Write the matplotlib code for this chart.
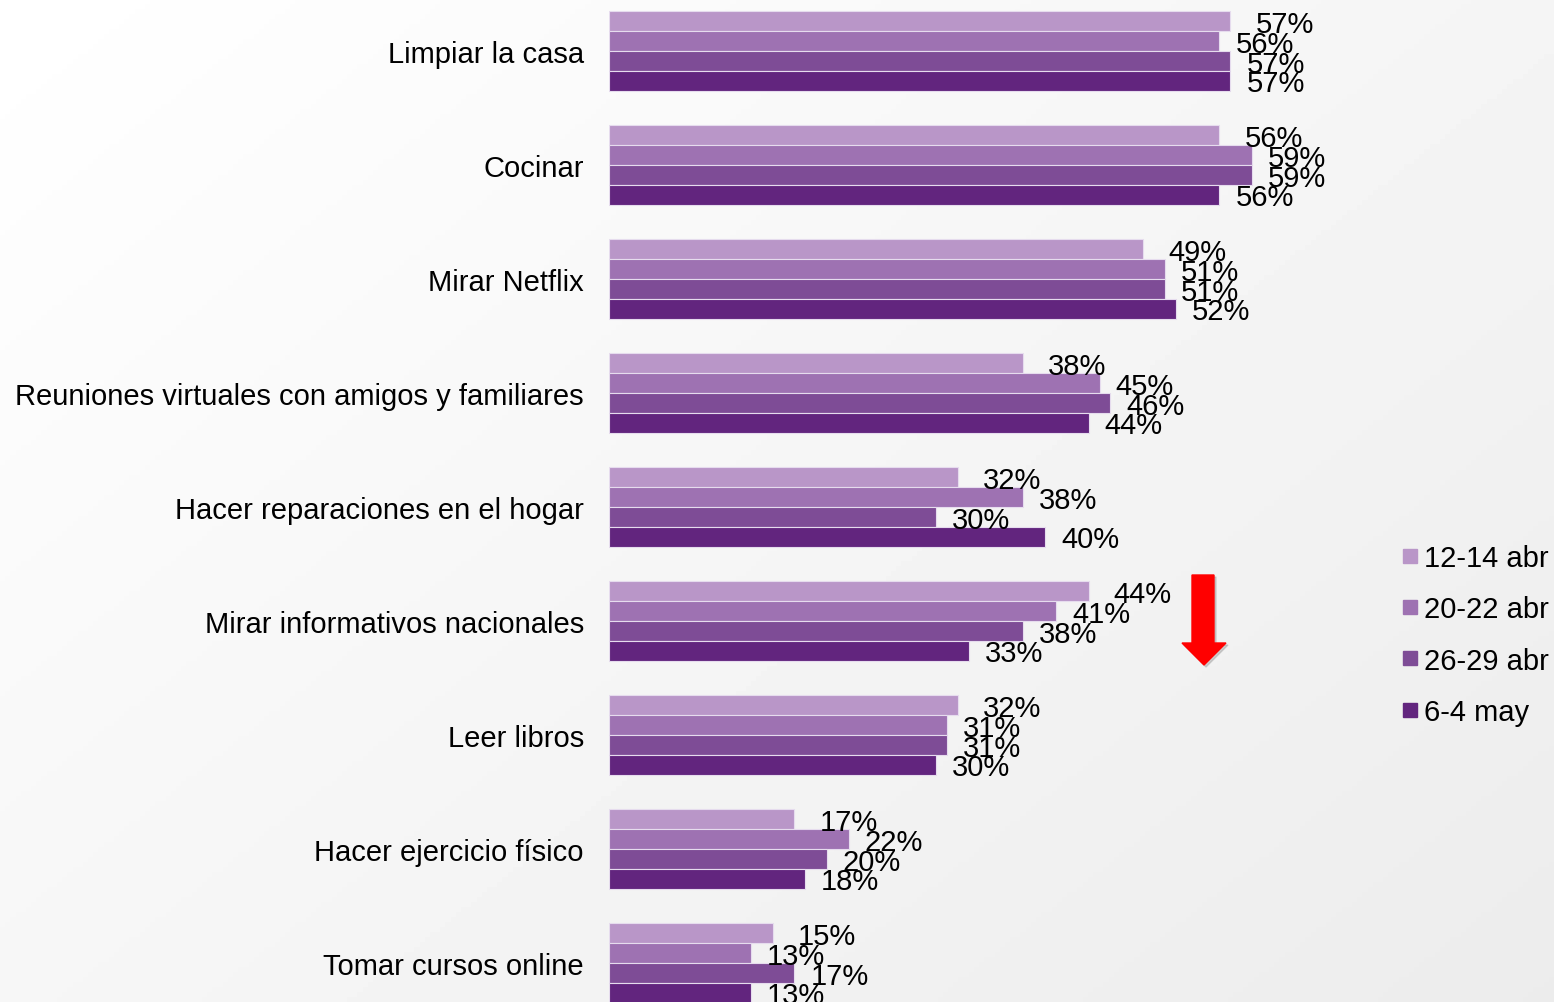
import numpy as np
import matplotlib
matplotlib.use("Agg")
import matplotlib.pyplot as plt
from matplotlib.lines import Line2D
from matplotlib.patches import Polygon

plt.rcParams['font.family'] = ['Liberation Sans', 'DejaVu Sans']

categorias = ['Limpiar la casa', 'Cocinar', 'Mirar Netflix',
              'Reuniones virtuales con amigos y familiares',
              'Hacer reparaciones en el hogar', 'Mirar informativos nacionales',
              'Leer libros', 'Hacer ejercicio físico', 'Tomar cursos online']
series = ['12-14 abr', '20-22 abr', '26-29 abr', '6-4 may']
v_12_14 = [57, 56, 49, 38, 32, 44, 32, 17, 15]
v_20_22 = [56, 59, 51, 45, 38, 41, 31, 22, 13]
v_26_29 = [57, 59, 51, 46, 30, 38, 31, 20, 17]
v_6_4 = [57, 56, 52, 44, 40, 33, 30, 18, 13]
valores = [v_12_14, v_20_22, v_26_29, v_6_4]
colores = ['#B996C8', '#9E72B2', '#7E4C96', '#62257E']

W, H = 1554, 1003
fig = plt.figure(figsize=(W / 100, H / 100), dpi=100)

# fondo con degradado
bg = fig.add_axes([0, 0, 1, 1], zorder=-10)
xx, yy = np.meshgrid(np.linspace(0, 1, 300), np.linspace(0, 1, 200))
grad = 1 - 0.075 * (0.55 * xx + 0.45 * yy)
bg.imshow(grad, cmap='gray', vmin=0, vmax=1, aspect='auto', extent=[0, 1, 0, 1], origin='upper')
bg.axis('off')

x0 = 609
ax = fig.add_axes([x0 / W, 0, 1 - x0 / W, 1])
ax.patch.set_alpha(0)
ax.set_xlim(0, (W - x0) / 10.9)
ax.set_ylim((H - 52) / 114, -52 / 114)

h = 19.8 / 114
y = np.arange(len(categorias))
offsets = [25, 16, 16, 16]
for i, (vals, col) in enumerate(zip(valores, colores)):
    pos = y + (i - 1.5) * h
    ax.barh(pos, vals, height=h, color=col, edgecolor='#E6DCEE', linewidth=0.8)
    for p, v in zip(pos, vals):
        ax.annotate(f'{v}%', (v, p), xytext=(offsets[i] * 0.72, -2), textcoords='offset points',
                    ha='left', va='center', fontsize=21, color='black')

ax.set_yticks(y)
ax.set_yticklabels(categorias, fontsize=21)
ax.tick_params(axis='y', length=0, pad=18)
ax.set_xticks([])
for s in ax.spines.values():
    s.set_visible(False)

handles = [Line2D([], [], marker='s', linestyle='', markersize=10, color=c) for c in colores]
fig.legend(handles, series, loc='upper left', bbox_to_anchor=(1403 / W, 1 - 545 / H),
           frameon=False, fontsize=21, borderpad=0, borderaxespad=0,
           handlelength=0.5, handletextpad=0.23, labelspacing=0.8)

# flecha roja
def px(x, yv):
    return (x / W, 1 - yv / H)

sombra = [px(1194, 578), px(1216, 578), px(1216, 646), px(1228, 646), px(1206, 668), px(1184, 646), px(1194, 646)]
fig.patches.append(Polygon(sombra, closed=True, transform=fig.transFigure, color='#999999', alpha=0.4, zorder=5))
flecha = [px(1192, 576), px(1214, 576), px(1214, 644), px(1226, 644), px(1204, 666), px(1182, 644), px(1192, 644)]
fig.patches.append(Polygon(flecha, closed=True, transform=fig.transFigure, color='#FF0000', zorder=6))

fig.savefig('out.png', dpi=100)
